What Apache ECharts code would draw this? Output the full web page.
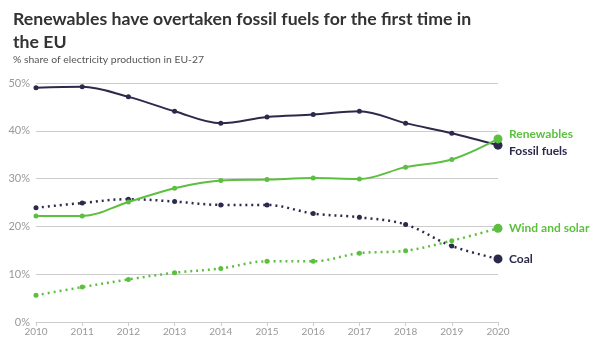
<!DOCTYPE html>
<html><head><meta charset="utf-8">
<script src="https://cdn.jsdelivr.net/npm/echarts@6/dist/echarts.min.js"></script>
<style>html,body{margin:0;padding:0;background:#fff}#c{width:594px;height:340px}</style>
</head><body><div id="c"></div>
<script>
var years = ['2010','2011','2012','2013','2014','2015','2016','2017','2018','2019','2020'];
var fossil = [49.0, 49.2, 47.1, 44.1, 41.6, 42.9, 43.4, 44.1, 41.6, 39.5, 37.0];
var renewables = [22.2, 22.2, 25.1, 28.0, 29.6, 29.8, 30.1, 29.9, 32.4, 34.0, 38.3];
var coal = [23.9, 24.9, 25.7, 25.2, 24.5, 24.5, 22.7, 21.9, 20.4, 15.9, 13.2];
var windSolar = [5.6, 7.3, 8.9, 10.3, 11.2, 12.7, 12.7, 14.4, 14.9, 17.0, 19.6];
var yTicks = [0, 10, 20, 30, 40, 50];

var DARK = '#2b2a4c', GREEN = '#5dbf3f';
var FONT = 'Lato';
function mk(name, data, color, dotted, labelOffY) {
  return {
    name: name, type: 'line', smooth: 0.35,
    data: data.map(function (v, i) { return { value: v, symbolSize: i === data.length - 1 ? 9 : 5 }; }),
    symbol: 'circle', showSymbol: true,
    lineStyle: { color: color, width: dotted ? 2.5 : 2, type: dotted ? [2, 4] : 'solid' },
    itemStyle: { color: color },
    endLabel: { show: true, formatter: name, color: color, fontFamily: FONT, fontWeight: 'bold', fontSize: 12, offset: [3, labelOffY] },
    z: dotted ? 2 : 3
  };
}
var chart = echarts.init(document.getElementById('c'));
chart.setOption({
  animation: false,
  title: [
    { text: 'Renewables have overtaken fossil fuels for the first time in\nthe EU', left: 8, top: 3,
      textStyle: { fontFamily: FONT, fontWeight: 'bold', fontSize: 17.7, color: '#333', lineHeight: 23 } },
    { text: '% share of electricity production in EU-27', left: 8, top: 50,
      textStyle: { fontFamily: FONT, fontWeight: 'normal', fontSize: 10.4, color: '#555' } }
  ],
  grid: { left: 36, right: 96, top: 83, bottom: 18 },
  xAxis: {
    type: 'category', data: years, boundaryGap: false,
    axisLine: { lineStyle: { color: '#ccc' } },
    axisTick: { show: true, length: 4, lineStyle: { color: '#ccc' } },
    axisLabel: { color: '#999', fontFamily: FONT, fontSize: 10, margin: 5 }
  },
  yAxis: {
    type: 'value', min: 0, max: 50, interval: 10,
    axisLine: { show: false }, axisTick: { show: false },
    axisLabel: { color: '#999', fontFamily: FONT, fontSize: 11, margin: 6, formatter: function (v) { return yTicks.indexOf(v) >= 0 ? v + '%' : ''; } },
    splitLine: { lineStyle: { color: '#ccc', width: 1 } }
  },
  series: [
    mk('Fossil fuels', fossil, DARK, false, 6),
    mk('Renewables', renewables, GREEN, false, -5),
    mk('Coal', coal, DARK, true, 0),
    mk('Wind and solar', windSolar, GREEN, true, 0)
  ]
});
</script></body></html>
